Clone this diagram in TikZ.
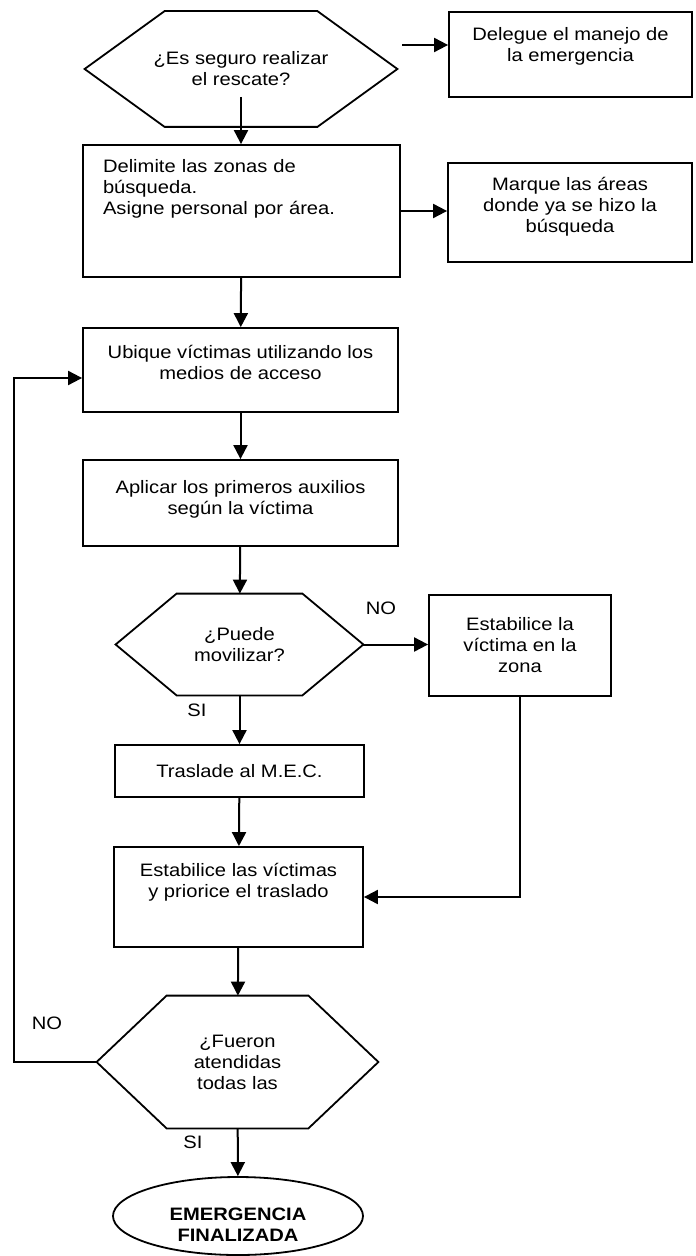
\documentclass[tikz,border=0pt]{standalone}
\usepackage{fontspec}
\setmainfont{Liberation Sans}[FakeStretch=1.12]
\usetikzlibrary{shapes.geometric,arrows.meta,positioning}
% hexagon drawn round a decision node
\newcommand{\decframe}[2]{%
  \draw[line width=0.9pt] (#1.west) -- ([xshift=#2]#1.north west) -- ([xshift=-#2]#1.north east)
    -- (#1.east) -- ([xshift=-#2]#1.south east) -- ([xshift=#2]#1.south west) -- cycle;}

\begin{document}
\begin{tikzpicture}[x=0.5pt,y=-0.5pt,
  font=\fontsize{9}{10.5}\selectfont,
  box/.style={draw,line width=0.9pt,align=center,inner sep=0pt},
  dec/.style={align=center,inner sep=0pt},
  term/.style={draw,ellipse,line width=0.9pt,align=center,inner sep=0pt,
    font=\fontsize{9}{10.5}\selectfont\bfseries},
  lbl/.style={inner sep=0pt},
  arr/.style={-{Triangle[length=7pt,width=7pt]},line width=1pt}]
  \path[use as bounding box,fill=white] (0,0) rectangle (695,1256);

  \node[dec,minimum width=156pt,minimum height=57.5pt] (q1) at (241,69) {¿Es seguro realizar\\el rescate?};
  \node[box,minimum width=121.5pt,minimum height=42.5pt] (deleg) at (570.5,54.5) {Delegue el manejo de\\la emergencia\\~};
  \node[box,align=left,text width=138.5pt,inner xsep=10pt,minimum height=66pt] (delim) at (241.5,211)
    {Delimite las zonas de\\búsqueda.\\Asigne personal por área.\\~\\[3pt]~};
  \node[box,minimum width=122pt,minimum height=49.5pt] (marq) at (570,212.5) {Marque las áreas\\donde ya se hizo la\\búsqueda\\[-3pt]~};
  \node[box,minimum width=157.5pt,minimum height=42pt] (ubic) at (240.5,370) {Ubique víctimas utilizando los\\medios de acceso\\[-2.5pt]~};
  \node[box,minimum width=157.5pt,minimum height=43pt] (apli) at (240.5,503) {Aplicar los primeros auxilios\\según la víctima\\[-4.5pt]~};
  \node[dec,minimum width=123.5pt,minimum height=50.5pt] (q2) at (239.5,644.5) {¿Puede\\movilizar?};
  \node[box,minimum width=91pt,minimum height=50.5pt] (estab1) at (520,645.5) {Estabilice la\\víctima en la\\zona};
  \node[box,minimum width=124.5pt,minimum height=26pt] (trasl) at (239.5,771) {Traslade al M.E.C.};
  \node[box,minimum width=124.5pt,minimum height=50pt] (estab2) at (238.5,897) {Estabilice las víctimas\\y priorice el traslado\\[6.5pt]~};
  \node[dec,minimum width=140.5pt,minimum height=66pt] (q3) at (237.5,1062) {¿Fueron\\atendidas\\todas las};
  \node[term,minimum width=125pt,minimum height=39pt] (fin) at (238,1216) {\strut\\[-3pt]EMERGENCIA\\FINALIZADA};
  \decframe{q1}{40pt} \decframe{q2}{30.5pt} \decframe{q3}{35pt}

  \node[lbl] (no1) at (381,608) {NO};
  \node[lbl] (si1) at (197,710) {SI};
  \node[lbl] (no2) at (47,1023) {NO};
  \node[lbl] (si2) at (193,1142) {SI};
  \coordinate (back) at (14,1062);

  \draw[arr] ([xshift=-23pt,yshift=4.75pt]deleg.west) -- ([yshift=4.75pt]deleg.west);
  \draw[arr] ([yshift=15pt]q1.south) -- (q1.south |- delim.north);
  \draw[arr] (delim.east) -- (delim.east -| marq.west);
  \draw[arr] (delim) -- (ubic); \draw[arr] (ubic) -- (apli); \draw[arr] (apli) -- (q2);
  \draw[arr] (q2) -- (trasl); \draw[arr] (trasl) -- (estab2); \draw[arr] (estab2) -- (q3);
  \draw[arr] (q3) -- (fin);
  \draw[arr] (q2.east) -- (q2.east -| estab1.west);
  \draw[arr] (estab1.south) |- (estab2.east);
  \draw[arr] (q3.west) -- (back) |- ([yshift=-4pt]ubic.west);
\end{tikzpicture}
\end{document}
